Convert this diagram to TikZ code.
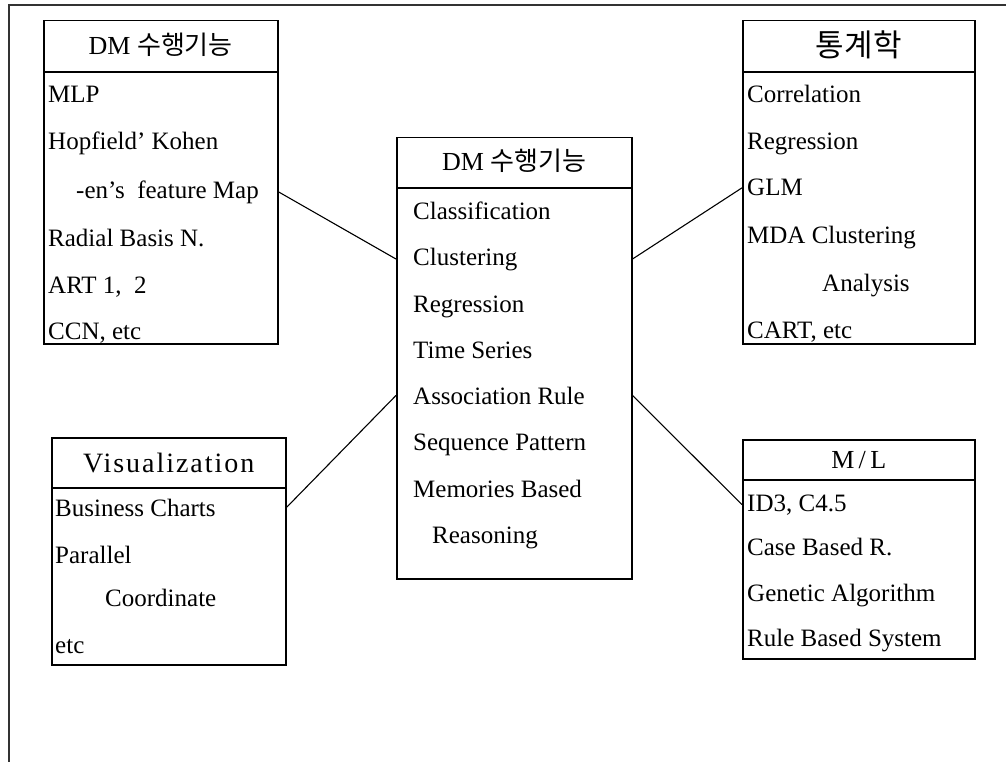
\documentclass[tikz,border=0pt]{standalone}
\usepackage{fontspec}
\setmainfont{Liberation Serif}
\newfontfamily\krfont{Noto Sans CJK KR}
\usetikzlibrary{positioning}

\begin{document}
\begin{tikzpicture}[x=1pt, y=-1pt,
  panel/.style={draw, line width=1.5pt, anchor=north west, inner sep=0pt},
  headline/.style={line width=1.5pt},
  boxtitle/.style={anchor=base, inner sep=0pt, font=\fontsize{26}{30}\selectfont},
  item/.style={anchor=base west, inner sep=0pt, font=\fontsize{25}{29}\selectfont},
  link/.style={line width=1.1pt}
]
  \useasboundingbox (0,0) rectangle (1006,762);

  % page frame (top and left edge only)
  \draw[line width=1.3pt, black!80] (9,762) -- (9,5) -- (1006,5);

  % Neural network box (top left)
  \node[panel, minimum width=234, minimum height=323] (nn) at (43,20) {};
  \draw[headline, line width=2.2pt] ([yshift=-52pt]nn.north west) -- ([yshift=-52pt]nn.north east);
  \node[boxtitle] (nnT) at ([yshift=-35pt]nn.north) {DM {\krfont 수행기능}};
  \node[item] (nna) at (48,103) {MLP};
  \node[item] (nnb) at (48,150) {Hopfield’ Kohen};
  \node[item] (nnc) at (76,198) {-en’s\ \ feature Map};
  \node[item] (nnd) at (48,246) {Radial Basis N.};
  \node[item] (nne) at (48,293) {ART 1,\ \ 2};
  \node[item] (nnf) at (48,339) {CCN, etc};

  % DM tasks box (centre)
  \node[panel, minimum width=235, minimum height=441] (dm) at (396,137) {};
  \draw[headline] ([yshift=-51pt]dm.north west) -- ([yshift=-51pt]dm.north east);
  \node[boxtitle] (dmT) at ([yshift=-34pt]dm.north) {DM {\krfont 수행기능}};
  \node[item] (dma) at (413,219) {Classification};
  \node[item] (dmb) at (413,265) {Clustering};
  \node[item] (dmc) at (413,312) {Regression};
  \node[item] (dmd) at (413,358) {Time Series};
  \node[item] (dme) at (413,404) {Association Rule};
  \node[item] (dmf) at (413,450) {Sequence Pattern};
  \node[item] (dmg) at (413,497) {Memories Based};
  \node[item] (dmh) at (432,543) {Reasoning};

  % Statistics box (top right)
  \node[panel, minimum width=232, minimum height=323] (st) at (742,20) {};
  \draw[headline] ([yshift=-52pt]st.north west) -- ([yshift=-52pt]st.north east);
  \node[boxtitle, font=\fontsize{31}{35}\selectfont] (stT) at ([yshift=-37pt]st.north) {{\krfont 통계학}};
  \node[item] (sta) at (747,103) {Correlation};
  \node[item] (stb) at (747,150) {Regression};
  \node[item] (stc) at (747,196) {GLM};
  \node[item] (std) at (747,243) {MDA Clustering};
  \node[item] (ste) at (822,291) {Analysis};
  \node[item] (stf) at (747,338) {CART, etc};

  % Visualization box (bottom left)
  \node[panel, minimum width=234, minimum height=227] (vz) at (51,437) {};
  \draw[headline] ([yshift=-51pt]vz.north west) -- ([yshift=-51pt]vz.north east);
  \node[boxtitle, font=\fontsize{28}{32}\selectfont\addfontfeature{LetterSpace=7}] (vzT) at ([yshift=-35pt]vz.north) {Visualization};
  \node[item] (vza) at (55,516) {Business Charts};
  \node[item] (vzb) at (55,563) {Parallel};
  \node[item] (vzc) at (105,606) {Coordinate};
  \node[item] (vzd) at (55,653) {etc};

  % Machine learning box (bottom right)
  \node[panel, minimum width=232, minimum height=219] (ml) at (742,439) {};
  \draw[headline] ([yshift=-41pt]ml.north west) -- ([yshift=-41pt]ml.north east);
  \node[boxtitle] (mlT) at ([yshift=-29pt]ml.north) {M\,/\,L};
  \node[item] (mla) at (747,511) {ID3, C4.5};
  \node[item] (mlb) at (747,555) {Case Based R.};
  \node[item] (mlc) at (747,601) {Genetic Algorithm};
  \node[item] (mld) at (747,646) {Rule Based System};

  % connectors
  \draw[link] (nn.east |- nnc) -- (dm.west |- dmb);
  \draw[link] (dm.east |- dmb) -- (st.west |- stc);
  \draw[link] (vz.east |- vza) -- (dm.west |- dme);
  \draw[link] (dm.east |- dme) -- (ml.west |- mla);
\end{tikzpicture}
\end{document}
